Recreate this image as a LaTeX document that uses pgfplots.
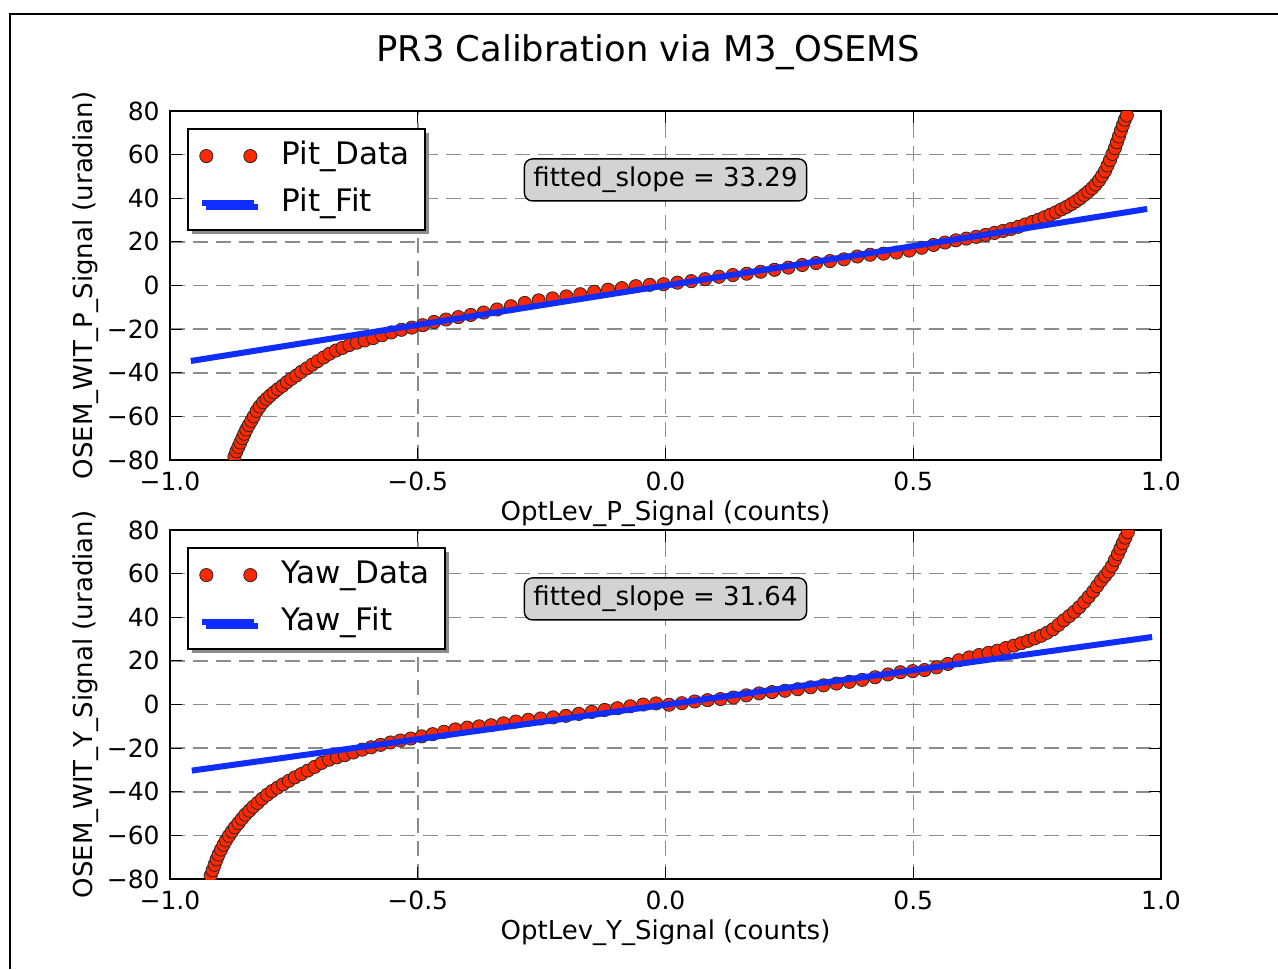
\documentclass[border=0pt]{standalone}
\usepackage{fontspec}
\setmainfont{DejaVu Sans}
\usepackage{pgfplots}
\pgfplotsset{compat=1.18}
\usetikzlibrary{shadows}
\definecolor{datared}{RGB}{255,40,0}
\definecolor{fitblue}{RGB}{15,45,255}
\definecolor{boxgray}{RGB}{211,211,211}
\definecolor{gridgray}{RGB}{140,140,140}

\pgfplotsset{
  calib/.style={
    scale only axis, width=495.5pt, height=174.5pt,
    anchor=south west,
    xmin=-1, xmax=1, ymin=-80, ymax=80,
    clip marker paths=true,
    xtick={-1,-0.5,0,0.5,1}, xticklabels={−1.0,−0.5,0.0,0.5,1.0},
    ytick={-80,-60,-40,-20,0,20,40,60,80},
    yticklabels={−80,−60,−40,−20,0,20,40,60,80},
    tick align=inside, xtick pos=both, ytick pos=both,
    major tick length=6pt,
    every tick/.style={black, line width=0.6pt},
    axis line style={black, line width=1pt},
    grid=major,
    major grid style={gridgray, line width=0.75pt, dash pattern=on 7.5pt off 4pt},
    ticklabel style={font=\fontsize{12.5}{15}\selectfont},
    xticklabel style={anchor=north, inner sep=0pt, yshift=-6pt},
    yticklabel style={anchor=east, inner sep=0pt, xshift=-5pt},
    label style={font=\fontsize{13}{15}\selectfont},
    xlabel style={at={(axis description cs:0.5,-0.172)}, anchor=base},
    ylabel style={at={(axis description cs:-0.0787,0.5)}, anchor=base, rotate=0},
    legend style={at={(0.017,0.951)}, anchor=north west,
      draw=black, line width=1pt, fill=white,
      inner xsep=5.75pt, inner ysep=4pt,
      font=\fontsize{15.5}{18}\selectfont,
      nodes={inner sep=2pt, text height=11.5pt, text depth=3.5pt},
      /tikz/every odd column/.append style={column sep=10pt},
      row sep=4.5pt,
      drop shadow={shadow xshift=2pt, shadow yshift=-2pt, fill=black!45, opacity=1}},
    legend cell align=left,
  },
  datastyle/.style={only marks, mark=*, mark size=3.3pt,
    mark options={fill=datared, draw=black!85, line width=0.4pt},
    legend image code/.code={\draw[##1] plot coordinates {(0pt,0pt) (22pt,0pt)};}},
  fitstyle/.style={fitblue, line width=3pt, line cap=butt, no marks,
    legend image code/.code={\draw[##1] (-2pt,0pt) -- (24pt,0pt);}},
}

\begin{document}
\begin{tikzpicture}
\useasboundingbox (0,0) rectangle (639pt,484.5pt);
\fill[white] (0,0) rectangle (639pt,484.5pt);
\draw[line width=1pt] (5pt,0pt) -- (5pt,477.5pt) -- (639pt,477.5pt);
\node[anchor=base, font=\fontsize{17.7}{20}\selectfont] at (324pt,453.5pt) {PR3 Calibration via M3\_OSEMS};

% ---------------- top axis ----------------
\begin{axis}[calib, at={(85pt,254.5pt)},
  xlabel={OptLev\_P\_Signal (counts)},
  ylabel={OSEM\_WIT\_P\_Signal (uradian)}]
\addplot[datastyle] coordinates {
(-0.874,-81) (-0.870,-78.5) (-0.866,-76) (-0.862,-74) (-0.858,-72) (-0.854,-70)
(-0.850,-68) (-0.846,-66) (-0.841,-64) (-0.836,-62) (-0.831,-60) (-0.825,-57.5)
(-0.819,-55.5) (-0.812,-53.5) (-0.805,-52) (-0.798,-50.5) (-0.790,-49) (-0.782,-47.5)
(-0.773,-46) (-0.764,-44.3) (-0.755,-42.8) (-0.745,-41.3) (-0.735,-39.6) (-0.724,-38)
(-0.713,-36.3) (-0.702,-34.7) (-0.690,-33) (-0.678,-31.3) (-0.665,-29.8) (-0.652,-28.6)
(-0.638,-27.3) (-0.623,-26.2) (-0.607,-25.2) (-0.590,-24.1) (-0.572,-22.8) (-0.553,-21.5)
(-0.533,-20.3) (-0.512,-19.3) (-0.490,-18.2) (-0.467,-16.7) (-0.443,-15.6) (-0.418,-14.5)
(-0.393,-13.5) (-0.367,-12.4) (-0.340,-11.0) (-0.312,-9.5) (-0.284,-8.0) (-0.256,-6.8)
(-0.228,-5.9) (-0.200,-5.0) (-0.172,-4.0) (-0.144,-2.9) (-0.116,-1.9) (-0.088,-1.2)
(-0.060,-0.3) (-0.032,0.3) (-0.004,0.6) (0.024,1.3) (0.052,2.0) (0.080,2.9)
(0.108,4.0) (0.136,4.8) (0.164,5.4) (0.192,6.3) (0.220,7.2) (0.248,8.2)
(0.276,9.4) (0.304,10.3) (0.332,11.2) (0.360,12.0) (0.387,13.3) (0.413,14.1)
(0.440,14.6) (0.466,15.1) (0.492,16.0) (0.517,17.3) (0.541,18.6) (0.564,19.7)
(0.586,20.7) (0.607,21.5) (0.627,22.3) (0.646,23.2) (0.664,24.1) (0.681,25.0)
(0.697,25.9) (0.712,26.9) (0.726,28.0) (0.740,29.1) (0.753,30.2) (0.765,31.3)
(0.777,32.5) (0.788,33.6) (0.799,34.9) (0.809,36.0) (0.819,37.3) (0.828,38.6)
(0.837,40.0) (0.845,41.5) (0.853,43.0) (0.861,44.6) (0.868,46.3) (0.875,48.2)
(0.881,50.3) (0.887,52.5) (0.892,55) (0.897,57.5) (0.902,60.3) (0.907,63)
(0.911,65.7) (0.915,68.3) (0.919,71) (0.923,73.5) (0.927,76) (0.931,78) (0.935,80.5)
};
\addlegendentry{Pit\_Data}
\addplot[fitstyle] coordinates {(-0.958,-34.6) (0.972,35.1)};
\addlegendentry{Pit\_Fit}
\node[fill=boxgray, draw=black, line width=0.7pt, rounded corners=4pt,
  inner xsep=4.5pt, inner ysep=4pt, text height=9.9pt, text depth=3.1pt,
  font=\fontsize{13}{15}\selectfont] at (axis cs:0,48.4) {fitted\_slope = 33.29};
\end{axis}

% ---------------- bottom axis ----------------
\begin{axis}[calib, at={(85pt,45pt)},
  xlabel={OptLev\_Y\_Signal (counts)},
  ylabel={OSEM\_WIT\_Y\_Signal (uradian)}]
\addplot[datastyle] coordinates {
(-0.922,-81) (-0.918,-78.5) (-0.914,-76) (-0.910,-73.5) (-0.906,-71) (-0.902,-68.8)
(-0.897,-66.5) (-0.892,-64.3) (-0.887,-62.3) (-0.881,-60.2) (-0.875,-58.2) (-0.869,-56.3)
(-0.862,-54.4) (-0.855,-52.4) (-0.848,-50.5) (-0.840,-48.7) (-0.832,-46.9) (-0.823,-45.1)
(-0.814,-43.2) (-0.804,-41.4) (-0.794,-39.7) (-0.783,-38.1) (-0.772,-36.6) (-0.760,-35.0)
(-0.748,-33.4) (-0.735,-31.9) (-0.722,-30.3) (-0.708,-28.6) (-0.694,-26.8) (-0.679,-25.3)
(-0.663,-24.2) (-0.647,-23.2) (-0.630,-22.0) (-0.612,-20.7) (-0.594,-19.6) (-0.575,-18.5)
(-0.555,-17.4) (-0.535,-16.5) (-0.514,-15.6) (-0.492,-14.6) (-0.470,-13.6) (-0.447,-12.5)
(-0.424,-11.4) (-0.400,-10.6) (-0.376,-10.0) (-0.352,-9.5) (-0.327,-8.6) (-0.302,-7.8)
(-0.277,-7.0) (-0.252,-6.4) (-0.227,-5.9) (-0.201,-5.2) (-0.175,-4.3) (-0.149,-3.4)
(-0.123,-2.5) (-0.097,-1.7) (-0.071,-0.8) (-0.045,0.0) (-0.019,0.5) (0.007,-0.1)
(0.033,0.6) (0.059,1.4) (0.085,2.0) (0.111,2.5) (0.137,3.2) (0.163,4.2)
(0.189,5.1) (0.215,5.7) (0.241,6.3) (0.267,7.0) (0.293,7.9) (0.319,8.8)
(0.345,9.6) (0.371,10.4) (0.397,11.3) (0.423,12.5) (0.449,13.8) (0.474,14.8)
(0.499,15.3) (0.523,15.8) (0.547,17.0) (0.570,18.6) (0.592,20.3) (0.613,21.6)
(0.633,22.7) (0.652,23.7) (0.670,24.7) (0.687,25.9) (0.703,27.0) (0.718,28.1)
(0.732,29.2) (0.745,30.3) (0.758,31.5) (0.770,32.9) (0.782,34.5) (0.793,36.5)
(0.804,38.6) (0.815,40.6) (0.825,42.5) (0.835,44.6) (0.845,47.0) (0.854,49.4)
(0.863,51.8) (0.871,54.3) (0.879,56.8) (0.887,59.0) (0.894,61.0) (0.901,63.5)
(0.907,66.3) (0.913,69.0) (0.918,71.5) (0.923,74.0) (0.928,76.5) (0.933,79.0) (0.937,81)
};
\addlegendentry{Yaw\_Data}
\addplot[fitstyle] coordinates {(-0.956,-30.3) (0.982,30.96)};
\addlegendentry{Yaw\_Fit}
\node[fill=boxgray, draw=black, line width=0.7pt, rounded corners=4pt,
  inner xsep=4.5pt, inner ysep=4pt, text height=9.9pt, text depth=3.1pt,
  font=\fontsize{13}{15}\selectfont] at (axis cs:0,48.4) {fitted\_slope = 31.64};
\end{axis}
\end{tikzpicture}
\end{document}
